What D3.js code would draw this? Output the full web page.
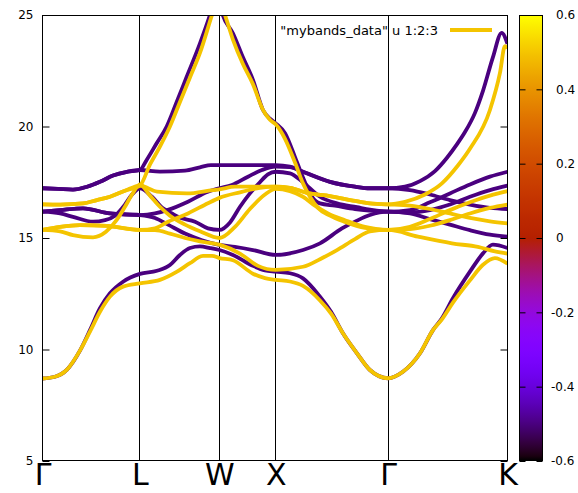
<!DOCTYPE html>
<html lang="en">
  <head>
    <meta charset="UTF-8" />
    <script src="https://cdnjs.cloudflare.com/ajax/libs/d3/7.8.5/d3.min.js"></script>
    <title>bands</title>
    <style>
      body {
        margin: 0;
        background: white;
      }
      text {
        font-family: "DejaVu Sans", sans-serif;
        fill: #000;
      }
      .band {
        fill: none;
        stroke-width: 3.8;
        stroke-linejoin: round;
      }
    </style>
  </head>
  <body>
    <script>
      // path through the zone and its labels
      const kLabels = ["Γ", "L", "W", "X", "Γ", "K"];
      const kTicks = [0, 0.866, 1.573, 2.073, 3.073, 4.134];
      const energyTicks = [5, 10, 15, 20, 25];
      const cbTicks = [-0.6, -0.4, -0.2, 0, 0.2, 0.4, 0.6];

      // third column (spin weight) for the two sets of bands
      const wDown = -0.5;
      const wUp = 0.5;

      // [k, E] for each band
      const dn1 = [[0,8.7],[0.111,8.78],[0.218,9.1],[0.333,9.95],[0.422,10.87],[0.511,11.85],[0.6,12.52],[0.716,13.04],[0.866,13.39],
        [1.018,13.53],[1.133,13.79],[1.222,14.24],[1.311,14.55],[1.4,14.62],[1.489,14.55],[1.573,14.46],
        [1.693,14.24],[1.871,13.75],[1.978,13.55],[2.073,13.49],
        [2.2,13.42],[2.316,13.19],[2.467,12.37],[2.564,11.7],[2.671,10.73],[2.796,9.83],[2.911,9.08],[3.073,8.71],
        [3.204,9.0],[3.356,9.83],[3.471,10.87],[3.551,11.4],[3.649,12.3],[3.8,13.49],[3.916,14.31],[4.004,14.7],[4.134,14.55]];
      const dn2 = [[0,16.18],[0.156,16.25],[0.36,16.33],[0.6,16.1],[0.866,16.03],
        [1.0,15.9],[1.116,15.6],[1.267,15.2],[1.418,14.9],[1.573,14.69],
        [1.711,14.6],[1.871,14.46],[2.073,14.24],
        [2.316,14.46],[2.467,14.76],[2.662,15.43],[2.796,15.78],[2.911,16.03],[3.073,16.18],
        [3.267,16.1],[3.444,15.85],[3.622,15.6],[3.8,15.35],[3.978,15.15],[4.134,15.06]];
      const dn3 = [[0,16.18],[0.156,16.25],[0.36,16.33],[0.6,16.1],[0.866,16.03],
        [1.0,16.1],[1.116,16.26],[1.293,16.63],[1.471,17.08],[1.573,17.23],
        [1.684,17.38],[1.827,17.75],[1.951,18.05],[2.073,18.2],
        [2.2,18.18],[2.316,17.97],[2.556,17.52],[2.778,17.3],[2.911,17.23],[3.073,17.23],
        [3.222,17.3],[3.356,17.55],[3.489,18.0],[3.596,18.6],[3.684,19.2],[3.756,19.75],[3.844,20.6],[3.916,21.6],[4.004,23.1],[4.082,24.2],[4.134,23.7]];
      const dn4 = [[0,16.18],[0.156,16.1],[0.271,15.95],[0.449,15.73],[0.556,15.8],[0.644,16.0],[0.733,16.5],[0.796,16.95],[0.866,17.23],
        [0.973,16.85],[1.071,16.33],[1.151,16.1],[1.204,15.95],[1.356,15.73],[1.471,15.43],[1.573,15.36],
        [1.667,15.7],[1.756,16.4],[1.844,17.0],[1.933,17.5],[2.004,17.85],[2.073,17.97],
        [2.2,17.9],[2.316,17.5],[2.467,16.85],[2.618,16.55],[2.796,16.38],[2.911,16.27],[3.073,16.18],
        [3.267,16.25],[3.444,16.6],[3.622,17.0],[3.8,17.4],[3.978,17.75],[4.134,17.97]];
      const dn5 = [[0,17.23],[0.138,17.2],[0.271,17.17],[0.396,17.3],[0.511,17.52],[0.627,17.8],[0.751,17.97],[0.866,18.05],
        [1.044,17.98],[1.267,18.02],[1.4,18.17],[1.498,18.27],[1.573,18.27],
        [1.844,18.27],[2.073,18.27],
        [2.2,18.2],[2.316,17.97],[2.556,17.52],[2.778,17.3],[2.911,17.23],[3.073,17.23],
        [3.267,17.15],[3.444,16.95],[3.622,16.7],[3.8,16.5],[3.978,16.35],[4.134,16.3]];
      const dn6 = [[0,17.23],[0.138,17.2],[0.271,17.17],[0.396,17.3],[0.511,17.52],[0.627,17.8],[0.751,17.97],[0.866,18.05],
        [0.926,18.5],[1.015,19.25],[1.104,20.0],[1.193,21.1],[1.282,22.23],[1.4,23.73],[1.489,25.0],[1.551,26.0],
        [1.602,25.0],[1.693,24.18],[1.782,23.1],[1.871,22.09],[1.96,20.74],[2.022,20.35],[2.073,20.14],
        [2.156,19.7],[2.244,18.64],[2.289,18.05],[2.351,17.3],[2.396,16.85],[2.467,16.55],[2.6,16.45],[2.778,16.3],[3.073,16.18],
        [3.267,16.15],[3.444,16.25],[3.622,16.5],[3.8,16.85],[3.978,17.15],[4.134,17.35]];

      const up1 = [[0,8.7],[0.111,8.78],[0.218,9.1],[0.333,9.95],[0.422,10.8],[0.511,11.69],[0.6,12.37],[0.716,12.82],[0.866,12.97],
        [1.044,13.12],[1.196,13.49],[1.311,13.87],[1.427,14.2],[1.507,14.2],[1.573,14.1],
        [1.693,14.0],[1.871,13.4],[1.978,13.2],[2.073,13.12],
        [2.2,13.05],[2.316,12.85],[2.467,12.2],[2.564,11.62],[2.671,10.73],[2.796,9.83],[2.911,9.08],[3.073,8.71],
        [3.204,9.0],[3.356,9.83],[3.471,10.87],[3.551,11.35],[3.649,12.1],[3.8,13.1],[3.916,13.8],[4.022,14.1],[4.134,13.85]];
      const up2 = [[0,15.36],[0.156,15.5],[0.333,15.58],[0.573,15.54],[0.866,15.36],
        [1.0,15.35],[1.133,15.2],[1.267,15.0],[1.4,14.85],[1.573,14.7],
        [1.756,14.3],[1.916,13.75],[2.073,13.57],
        [2.316,13.71],[2.467,14.05],[2.618,14.46],[2.778,14.95],[2.911,15.3],[3.073,15.36],
        [3.338,15.06],[3.64,14.76],[3.871,14.6],[4.022,14.4],[4.134,14.3]];
      const up3 = [[0,15.36],[0.156,15.5],[0.333,15.58],[0.573,15.54],[0.866,15.36],
        [1.0,15.43],[1.116,15.73],[1.293,16.1],[1.471,16.56],[1.573,16.8],
        [1.756,17.05],[1.933,17.25],[2.073,17.3],
        [2.2,17.25],[2.351,17.02],[2.556,16.88],[2.76,16.68],[2.911,16.55],[3.073,16.51],
        [3.222,16.62],[3.4,16.95],[3.551,17.45],[3.693,18.25],[3.8,19.0],[3.978,20.74],[4.067,22.4],[4.111,23.6],[4.134,23.5]];
      const up4 = [[0,15.36],[0.156,15.3],[0.271,15.13],[0.449,15.03],[0.564,15.28],[0.66,15.81],[0.733,16.4],[0.796,16.95],[0.866,17.4],
        [0.956,16.9],[1.044,16.4],[1.133,16.0],[1.267,15.6],[1.4,15.3],[1.573,15.0],
        [1.711,15.5],[1.844,16.3],[1.978,16.95],[2.073,17.2],
        [2.2,17.1],[2.316,16.85],[2.422,16.45],[2.538,16.1],[2.689,15.8],[2.867,15.5],[3.073,15.36],
        [3.267,15.5],[3.444,15.85],[3.622,16.25],[3.8,16.6],[3.978,16.9],[4.134,17.1]];
      const up5 = [[0,16.51],[0.156,16.5],[0.36,16.55],[0.484,16.7],[0.6,16.85],[0.733,17.12],[0.866,17.35],
        [1.018,17.08],[1.284,17.0],[1.516,17.15],[1.573,17.18],
        [1.711,17.3],[2.073,17.3],
        [2.2,17.25],[2.351,17.02],[2.556,16.88],[2.76,16.68],[2.911,16.55],[3.073,16.51],
        [3.267,16.45],[3.444,16.3],[3.622,16.1],[3.8,15.9],[3.978,15.75],[4.134,15.66]];
      const up6 = [[0,16.51],[0.156,16.5],[0.36,16.55],[0.484,16.7],[0.6,16.85],[0.733,17.12],[0.866,17.35],
        [0.956,18.3],[1.044,19.1],[1.133,20.0],[1.222,21.1],[1.311,22.2],[1.4,23.3],[1.507,25.0],[1.56,25.8],
        [1.622,25.0],[1.693,23.9],[1.782,22.8],[1.871,21.9],[1.96,20.75],[2.022,20.3],[2.073,20.1],
        [2.156,19.45],[2.244,18.4],[2.316,17.45],[2.378,16.85],[2.449,16.35],[2.556,16.0],[2.689,15.72],[2.867,15.45],[3.073,15.36],
        [3.267,15.4],[3.444,15.55],[3.622,15.8],[3.8,16.1],[3.978,16.35],[4.134,16.5]];

      const bands = [dn1, dn2, dn3, dn4, dn5, dn6].map((p) => ({ pts: p, w: wDown }))
        .concat([up1, up2, up3, up4, up5, up6].map((p) => ({ pts: p, w: wUp })));

      const width = 578, height = 493;
      const plotLeft = 42.5, plotRight = 507.5, plotTop = 15, plotBottom = 461;
      const cbLeft = 519.5, cbRight = 542.5;

      const svg = d3.select("body").append("svg")
        .attr("width", width)
        .attr("height", height);

      const x = d3.scaleLinear().domain([0, 4.134]).range([plotLeft, plotRight]);
      const y = d3.scaleLinear().domain([5, 25]).range([plotBottom, plotTop]);
      const cb = d3.scaleLinear().domain([-0.6, 0.6]).range([plotBottom, plotTop]);

      // gnuplot default palette (rgbformulae 7,5,15)
      function palette(v) {
        const t = Math.max(0, Math.min(1, (v + 0.6) / 1.2));
        const r = Math.sqrt(t), g = t * t * t, b = Math.max(0, Math.sin(2 * Math.PI * t));
        return d3.rgb(r * 255, g * 255, b * 255).formatHex();
      }

      svg.append("clipPath").attr("id", "plotclip")
        .append("rect")
        .attr("x", plotLeft).attr("y", plotTop)
        .attr("width", plotRight - plotLeft).attr("height", plotBottom - plotTop);

      // vertical lines at the high symmetry points
      svg.append("g").selectAll("line")
        .data(kTicks.slice(1, -1))
        .enter().append("line")
        .attr("x1", (d) => Math.round(x(d) - 0.5) + 0.5)
        .attr("x2", (d) => Math.round(x(d) - 0.5) + 0.5)
        .attr("y1", plotTop).attr("y2", plotBottom)
        .attr("stroke", "#000").attr("stroke-width", 1);

      const line = d3.line()
        .x((d) => x(d[0]))
        .y((d) => y(d[1]))
        .curve(d3.curveMonotoneX);

      svg.append("g").attr("clip-path", "url(#plotclip)")
        .selectAll("path")
        .data(bands)
        .enter().append("path")
        .attr("class", "band")
        .attr("stroke", (d) => palette(d.w))
        .attr("d", (d) => line(d.pts));

      // border
      svg.append("rect")
        .attr("x", plotLeft).attr("y", plotTop + 0.5)
        .attr("width", plotRight - plotLeft).attr("height", plotBottom - plotTop - 1)
        .attr("fill", "none").attr("stroke", "#000").attr("stroke-width", 1);

      const yLeft = svg.append("g")
        .attr("transform", `translate(${plotLeft},0)`)
        .call(d3.axisLeft(y).tickValues(energyTicks).tickSize(-7).tickPadding(9));
      yLeft.select(".domain").remove();
      yLeft.selectAll("text").attr("font-size", 12).attr("font-family", "DejaVu Sans");

      const yRight = svg.append("g")
        .attr("transform", `translate(${plotRight},0)`)
        .call(d3.axisRight(y).tickValues(energyTicks).tickSize(-7).tickFormat(""));
      yRight.select(".domain").remove();

      const xAxis = svg.append("g")
        .attr("transform", `translate(0,${plotBottom})`)
        .call(d3.axisBottom(x).tickValues(kTicks).tickSize(0).tickPadding(3)
          .tickFormat((d, i) => kLabels[i]));
      xAxis.select(".domain").remove();
      xAxis.selectAll("text").attr("font-size", 30).attr("font-family", "DejaVu Sans");

      // colour box
      const grad = svg.append("defs").append("linearGradient")
        .attr("id", "cbgrad")
        .attr("x1", 0).attr("y1", 1).attr("x2", 0).attr("y2", 0);
      d3.range(0, 101).forEach((i) => {
        grad.append("stop")
          .attr("offset", i / 100)
          .attr("stop-color", palette(-0.6 + (1.2 * i) / 100));
      });
      svg.append("rect")
        .attr("x", cbLeft).attr("y", plotTop + 0.5)
        .attr("width", cbRight - cbLeft).attr("height", plotBottom - plotTop - 1)
        .attr("fill", "url(#cbgrad)")
        .attr("stroke", "#000").attr("stroke-width", 1);

      const cbL = svg.append("g")
        .attr("transform", `translate(${cbLeft},0)`)
        .call(d3.axisLeft(cb).tickValues(cbTicks).tickSize(-6).tickFormat(""));
      cbL.select(".domain").remove();
      const cbR = svg.append("g")
        .attr("transform", `translate(${cbRight},0)`)
        .call(d3.axisRight(cb).tickValues(cbTicks).tickSize(-6)
          .tickFormat((d) => (d === 0 ? "0" : d.toFixed(1))));
      cbR.select(".domain").remove();
      cbR.selectAll("text")
        .attr("font-size", 12).attr("font-family", "DejaVu Sans")
        .attr("x", (d) => (d < 0 ? 8.5 : 13.5));

      // key
      svg.append("text")
        .attr("x", 438).attr("y", 30).attr("dy", "0.35em")
        .attr("text-anchor", "end")
        .attr("font-size", 13)
        .text('"mybands_data" u 1:2:3');
      svg.append("line")
        .attr("x1", 450).attr("x2", 492)
        .attr("y1", 30).attr("y2", 30)
        .attr("stroke", palette(wUp)).attr("stroke-width", 3.8);
    </script>
  </body>
</html>
